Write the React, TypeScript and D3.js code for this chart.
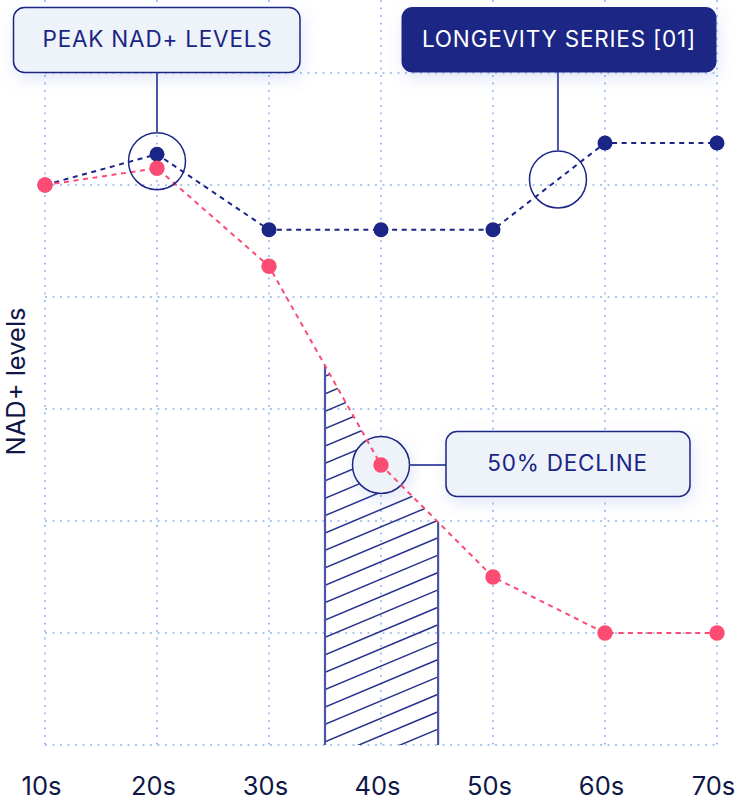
import React from 'react';
import * as d3 from 'd3';

const categories = ['10s', '20s', '30s', '40s', '50s', '60s', '70s'];
const decades = [10, 20, 30, 40, 50, 60, 70];
const longevitySeries = [100, 105.5, 92, 92, 92, 107.5, 107.5];
const nadSeries = [100, 103, 85.5, 50, 30, 20, 20];
const yTicks = [0, 20, 40, 60, 80, 100, 120];
const hatchRange = [35, 45.1];
const yAxisLabel = 'NAD+ levels';
const peakLabel = 'PEAK NAD+ LEVELS';
const seriesLabel = 'LONGEVITY SERIES [01]';
const declineLabel = '50% DECLINE';
const seriesMarkerDecade = 55.8;

const W = 737;
const H = 802;
const NAVY = '#1b2585';
const NAVY_SOFT = '#4a54a8';
const PINK = '#fc4c74';
const GRID = '#a9c7f2';
const BOX_FILL = '#eef2f9';
const TEXT = '#101748';
const FONT = 'Inter, "Noto Sans", sans-serif';

export default function App() {
  const x = d3.scaleLinear().domain([10, 70]).range([45, 717]);
  const y = d3.scaleLinear().domain([0, 120]).range([745, 73]);

  const interp = (vals: number[], d: number) => {
    const i = Math.min(Math.floor((d - 10) / 10), vals.length - 2);
    const t = (d - decades[i]) / 10;
    return vals[i] + (vals[i + 1] - vals[i]) * t;
  };

  const line = d3
    .line<number>()
    .x((_, i) => x(decades[i]))
    .y((v) => y(v));

  const areaDecades = [hatchRange[0], 40, hatchRange[1]];
  const area = d3
    .area<number>()
    .x((d) => x(d))
    .y0(y(0))
    .y1((d) => y(interp(nadSeries, d)));
  const areaPath = area(areaDecades) || '';
  const hx0 = x(hatchRange[0]);
  const hx1 = x(hatchRange[1]);
  const spacing = 17.4;
  const slope = 0.42;
  const hatchLines: number[] = [];
  for (let k = -30; k < 30; k++) {
    const yy = 620 + k * spacing;
    if (yy - slope * (hx1 - hx0) < y(120) || yy > y(0) + 60) continue;
    hatchLines.push(yy);
  }

  const peakX = x(20);
  const peakY = (y(longevitySeries[1]) + y(nadSeries[1])) / 2;
  const serX = x(seriesMarkerDecade);
  const serY = y(interp(longevitySeries, seriesMarkerDecade));
  const decX = x(40);
  const decY = y(nadSeries[3]);
  const R = 28.5;
  const boxFont = 22.5;
  const boxSpacing = 0.8;

  return (
    <svg
      width={W}
      height={H}
      style={{ position: 'absolute', left: 0, top: 0, background: '#fff' }}
      fontFamily={FONT}
    >
      <defs>
        <filter id="shadow" x="-20%" y="-40%" width="140%" height="190%">
          <feDropShadow dx="2" dy="6" stdDeviation="8" floodColor="#5a78d8" floodOpacity="0.18" />
        </filter>
        <clipPath id="hatchClip">
          <path d={areaPath} />
        </clipPath>
      </defs>

      {decades.map((d) => (
        <line
          key={'v' + d}
          x1={x(d)}
          x2={x(d)}
          y1={0}
          y2={y(0)}
          stroke={GRID}
          strokeWidth={2}
          strokeDasharray="2,5.5"
        />
      ))}
      {yTicks.map((t) => (
        <line
          key={'h' + t}
          x1={x(10)}
          x2={x(70)}
          y1={y(t)}
          y2={y(t)}
          stroke={GRID}
          strokeWidth={2}
          strokeDasharray="2,5.5"
        />
      ))}

      <g clipPath="url(#hatchClip)">
        {hatchLines.map((yy, i) => (
          <line
            key={i}
            x1={hx0}
            y1={yy}
            x2={hx1}
            y2={yy - slope * (hx1 - hx0)}
            stroke="#28328c"
            strokeWidth={1.5}
          />
        ))}
      </g>
      <line x1={hx0} x2={hx0} y1={y(interp(nadSeries, hatchRange[0]))} y2={y(0)} stroke={NAVY_SOFT} strokeWidth={2.2} />
      <line x1={hx1} x2={hx1} y1={y(interp(nadSeries, hatchRange[1]))} y2={y(0)} stroke={NAVY_SOFT} strokeWidth={2.2} />

      <circle cx={decX} cy={decY} r={R} fill={BOX_FILL} stroke={NAVY} strokeWidth={1.5} filter="url(#shadow)" />
      <line x1={decX + R} x2={446} y1={decY} y2={decY} stroke={NAVY_SOFT} strokeWidth={2} />

      <path d={line(longevitySeries) || ''} fill="none" stroke={NAVY} strokeWidth={2} strokeDasharray="5,4.6" />
      <path d={line(nadSeries) || ''} fill="none" stroke={PINK} strokeWidth={2} strokeDasharray="5,4.6" />
      {longevitySeries.map((v, i) => (
        <circle key={'b' + i} cx={x(decades[i])} cy={y(v)} r={7.5} fill={NAVY} />
      ))}
      {nadSeries.map((v, i) => (
        <circle key={'p' + i} cx={x(decades[i])} cy={y(v)} r={7.7} fill={PINK} />
      ))}

      <circle cx={peakX} cy={peakY} r={R} fill="none" stroke={NAVY} strokeWidth={1.5} />
      <line x1={peakX} x2={peakX} y1={72} y2={peakY - R} stroke={NAVY_SOFT} strokeWidth={2} />
      <rect x={13.5} y={7.5} width={286.5} height={65} rx={11} fill={BOX_FILL} stroke={NAVY} strokeWidth={1.5} filter="url(#shadow)" />
      <text x={157.5} y={47} textAnchor="middle" fontSize={boxFont} letterSpacing={boxSpacing} fill={NAVY}>
        {peakLabel}
      </text>

      <circle cx={serX} cy={serY} r={R} fill="none" stroke={NAVY} strokeWidth={1.5} />
      <line x1={serX} x2={serX} y1={72} y2={serY - R} stroke={NAVY_SOFT} strokeWidth={2} />
      <rect x={401.5} y={7} width={315} height={65.5} rx={11} fill={NAVY} filter="url(#shadow)" />
      <text x={559} y={47} textAnchor="middle" fontSize={boxFont} letterSpacing={boxSpacing} fill="#ffffff">
        {seriesLabel}
      </text>

      <rect x={446} y={431.5} width={244} height={65} rx={11} fill={BOX_FILL} stroke={NAVY} strokeWidth={1.5} filter="url(#shadow)" />
      <text x={567.5} y={471} textAnchor="middle" fontSize={boxFont} letterSpacing={boxSpacing} fill={NAVY}>
        {declineLabel}
      </text>

      {categories.map((c, i) => (
        <text key={c} x={x(decades[i]) - 3.5} y={795} textAnchor="middle" fontSize={25.5} fill={TEXT}>
          {c}
        </text>
      ))}

      <text
        transform={`translate(25,${381.5}) rotate(-90)`}
        textAnchor="middle"
        fontSize={25.5}
        fill={TEXT}
      >
        {yAxisLabel}
      </text>
    </svg>
  );
}
